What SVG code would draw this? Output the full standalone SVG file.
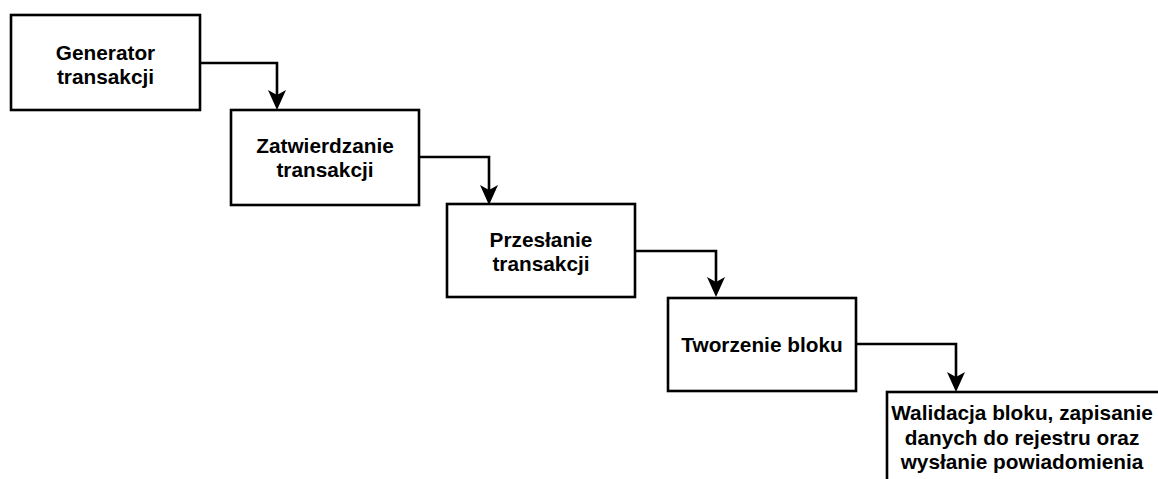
<svg xmlns="http://www.w3.org/2000/svg" width="1158" height="479" viewBox="0 0 1158 479">
<style>
.box{fill:#ffffff;stroke:#000000;stroke-width:2.6}
.lbl{font-family:"Liberation Sans",Arial,sans-serif;font-weight:bold;font-size:20.8px;fill:#000000;text-anchor:middle}
.conn{fill:none;stroke:#000000;stroke-width:2.6}
</style>
<defs>
<marker id="arr" markerUnits="userSpaceOnUse" markerWidth="20" markerHeight="18" viewBox="0 0 20 18" refX="14" refY="9" orient="auto">
<path d="M0,0 L20,9 L0,18 L5,9 Z" fill="#000000"/>
</marker>
</defs>
<rect width="1158" height="479" fill="#ffffff"/>
<g id="connectors">
<path class="conn" d="M200,63 H277 V104" marker-end="url(#arr)"/>
<path class="conn" d="M419,157 H489 V199" marker-end="url(#arr)"/>
<path class="conn" d="M635,251 H716 V291" marker-end="url(#arr)"/>
<path class="conn" d="M856,344 H956 V386" marker-end="url(#arr)"/>
</g>
<g id="node1">
<rect class="box" x="11" y="15" width="189" height="95"/>
<text class="lbl" x="105.5" y="60">Generator</text>
<text class="lbl" x="105.5" y="84">transakcji</text>
</g>
<g id="node2">
<rect class="box" x="231" y="110" width="188" height="95"/>
<text class="lbl" x="325" y="153">Zatwierdzanie</text>
<text class="lbl" x="325" y="177">transakcji</text>
</g>
<g id="node3">
<rect class="box" x="447" y="204" width="188" height="93"/>
<text class="lbl" x="541" y="247">Przesłanie</text>
<text class="lbl" x="541" y="271">transakcji</text>
</g>
<g id="node4">
<rect class="box" x="668" y="298" width="188" height="93"/>
<text class="lbl" x="762" y="352">Tworzenie bloku</text>
</g>
<g id="node5">
<rect class="box" x="887" y="392" width="275" height="100"/>
<text class="lbl" x="1022" y="420">Walidacja bloku, zapisanie</text>
<text class="lbl" x="1022" y="444.5">danych do rejestru oraz</text>
<text class="lbl" x="1022" y="469">wysłanie powiadomienia</text>
</g>
</svg>
